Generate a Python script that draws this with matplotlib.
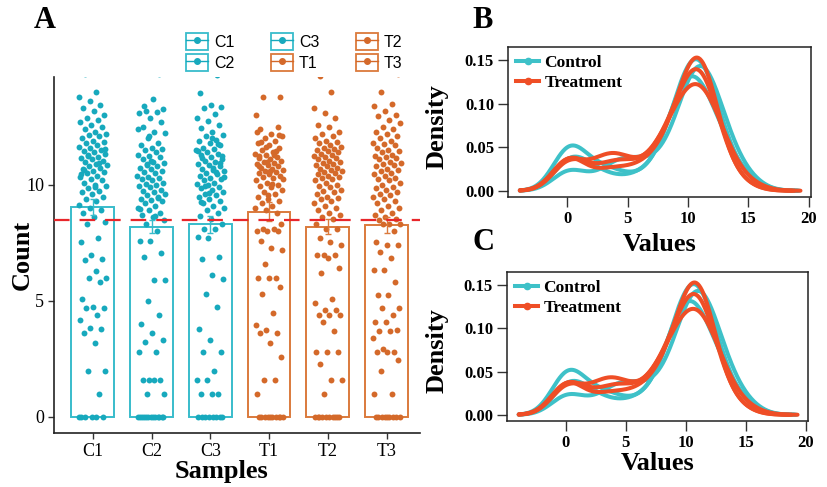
import matplotlib
matplotlib.use('Agg')
import matplotlib.pyplot as plt
from matplotlib.lines import Line2D
from matplotlib.patches import Patch
from matplotlib.legend_handler import HandlerTuple
import numpy as np

samples = ['C1', 'C2', 'C3', 'T1', 'T2', 'T3']
groups = ['Control', 'Control', 'Control', 'Treatment', 'Treatment', 'Treatment']
bar_means = [9.05, 8.2, 8.3, 8.85, 8.2, 8.27]
bar_se = [0.33, 0.27, 0.38, 0.4, 0.32, 0.33]
grand_mean = 8.5
kde_bw = 1.3

# per-sample values (a few above 14.65 lie outside panel A's range)
c1 = [0, 0, 0, 0, 0, 0, 1.0, 2.0, 2.0, 3.2, 3.6, 3.8, 3.85, 4.2, 4.4, 4.7, 4.7, 4.75,
      5.1, 5.8, 6.0, 6.0, 6.3, 6.75, 6.8, 7.0, 7.55, 7.7, 8.3, 8.4,
      8.6, 8.8, 8.9, 9.0, 9.15, 9.3, 9.4, 9.5, 9.6, 9.7, 9.75, 9.85, 9.95, 10.0, 10.1,
      10.2, 10.25, 10.35, 10.4, 10.5, 10.55, 10.6, 10.7, 10.75, 10.8, 10.85, 10.9, 11.0,
      11.05, 11.1, 11.15, 11.2, 11.3, 11.35, 11.4, 11.45, 11.5, 11.6, 11.65, 11.7, 11.8,
      11.85, 11.9, 12.0, 12.1, 12.15, 12.2, 12.3, 12.4, 12.5, 12.6, 12.7, 12.8, 12.9,
      13.0, 13.2, 13.3, 13.45, 13.6, 13.8, 14.0, 14.8, 14.9, 15.3, 10.45, 10.95, 11.25,
      11.55, 9.9, 10.65]
c2 = [0, 0, 0, 0, 0, 0, 0, 0, 0, 0, 0, 0, 0, 1.0, 1.0, 1.6, 1.6, 1.6, 1.6, 2.8, 2.8,
      3.25, 3.3, 3.6, 4.0, 4.4, 5.0, 5.9, 5.9, 6.9, 7.05, 7.6, 7.6, 8.0, 8.3,
      8.5, 8.6, 8.7, 8.8, 8.9, 9.0, 9.1, 9.2, 9.3, 9.35, 9.4, 9.5, 9.55, 9.6, 9.7, 9.75,
      9.8, 9.9, 9.95, 10.0, 10.05, 10.1, 10.2, 10.25, 10.3, 10.35, 10.4, 10.5, 10.55,
      10.6, 10.7, 10.75, 10.8, 10.9, 10.95, 11.0, 11.1, 11.2, 11.25, 11.3, 11.4, 11.5,
      11.55, 11.6, 11.7, 11.8, 12.0, 12.25, 12.3, 12.5, 12.7, 12.9, 13.1, 13.15, 13.2,
      13.25, 13.7, 15.2, 14.8, 12.1, 12.4, 8.65, 13.4, 14.9, 11.05, 8.95, 9.45, 10.85]
c3 = [0, 0, 0, 0, 0, 0, 0, 0, 1.0, 1.0, 1.0, 1.6, 1.6, 2.0, 2.8, 2.8, 3.3, 3.8, 4.75,
      5.3, 5.95, 6.1, 6.8, 6.9, 7.7, 7.75, 8.1, 8.1, 8.3,
      8.55, 8.65, 8.8, 8.9, 9.0, 9.1, 9.2, 9.3, 9.4, 9.5, 9.55, 9.6, 9.7, 9.8, 9.85, 9.9,
      10.0, 10.05, 10.1, 10.2, 10.25, 10.3, 10.4, 10.45, 10.5, 10.6, 10.65, 10.7, 10.8,
      10.85, 10.9, 11.0, 11.05, 11.1, 11.2, 11.3, 11.35, 11.4, 11.5, 11.55, 11.6, 11.7,
      11.8, 11.9, 11.95, 12.1, 12.15, 12.3, 12.45, 12.6, 12.75, 12.9, 13.05, 13.3, 13.35,
      13.45, 13.95, 14.75, 15.1, 10.35, 10.75, 11.15, 10.95, 9.65, 11.45, 10.55, 9.95,
      11.25, 12.0, 9.25, 11.75]
t1 = [0, 0, 0, 0, 0, 0, 0, 0, 0, 0, 1.0, 1.6, 1.6, 2.6, 3.2, 3.6, 3.6, 3.75, 3.95, 4.5,
      5.3, 5.6, 6.0, 6.0, 6.0, 6.6, 7.2, 7.3, 7.6, 8.0, 8.0, 8.0, 8.1, 8.1, 8.3,
      10.6, 10.8, 8.8, 8.9, 9.0, 9.1, 9.2, 9.3, 9.4, 9.5, 9.6, 9.7, 9.8, 9.9, 9.95, 10.0,
      10.1, 10.2, 10.3, 10.35, 10.4, 10.45, 10.5, 10.55, 10.6, 10.65, 10.7, 10.75, 10.8,
      10.85, 10.9, 10.95, 11.0, 11.05, 11.1, 11.15, 11.2, 11.3, 11.35, 11.4, 11.5, 11.6,
      11.7, 11.8, 11.9, 12.0, 12.1, 12.2, 12.4, 12.5, 11.0, 13.0, 11.3, 13.8, 13.8, 14.9,
      11.25, 11.45, 11.65, 10.25, 10.05, 11.85, 12.15, 9.55, 12.3]
t2 = [0, 0, 0, 0, 0, 0, 0, 0, 0, 0, 1.0, 1.6, 1.6, 2.3, 2.8, 2.8, 2.8, 3.7, 4.1, 4.4,
      4.4, 4.4, 4.6, 4.6, 4.9, 5.1, 6.2, 6.4, 6.85, 7.0, 7.0, 7.0, 7.4, 7.55, 7.7, 8.1,
      8.1, 8.3,
      8.55, 8.6, 8.7, 8.8, 8.9, 9.0, 9.1, 9.2, 9.3, 9.4, 9.45, 9.5, 9.6, 9.7, 9.75, 9.8,
      9.9, 9.95, 10.0, 10.1, 10.2, 10.25, 10.3, 10.35, 10.4, 10.45, 10.5, 10.55, 10.6,
      10.65, 10.7, 10.75, 10.8, 10.85, 10.9, 10.95, 11.0, 11.05, 11.1, 11.15, 11.2, 11.25,
      11.3, 11.35, 11.4, 11.45, 11.5, 11.55, 11.6, 11.65, 11.7, 11.8, 11.85, 11.9, 12.0,
      12.1, 12.2, 12.3, 12.5, 12.6, 12.9, 13.1, 13.3, 14.0, 14.7]
t3 = [0, 0, 0, 0, 0, 0, 0, 0, 0, 1.0, 1.0, 2.0, 2.45, 2.8, 2.8, 2.8, 2.95, 3.4, 3.7,
      3.7, 3.75, 4.1, 4.1, 4.4, 4.7, 4.7, 5.25, 5.25, 5.8, 6.35, 6.35, 6.85, 7.1, 7.4,
      7.4, 7.55, 8.0, 8.3, 8.3, 8.3,
      8.5, 8.55, 8.6, 8.7, 8.8, 8.9, 9.0, 9.1, 9.2, 9.3, 9.4, 9.5, 9.55, 9.6, 9.7, 9.8,
      9.85, 9.9, 10.0, 10.1, 10.2, 10.25, 10.3, 10.4, 10.45, 10.5, 10.6, 10.65, 10.7,
      10.8, 10.85, 10.9, 10.95, 11.0, 11.1, 11.15, 11.2, 11.25, 11.3, 11.4, 11.45, 11.5,
      11.6, 11.7, 11.75, 11.8, 11.9, 12.0, 12.1, 12.2, 12.3, 12.4, 12.5, 12.65, 12.8,
      12.95, 13.0, 13.2, 13.4, 13.5, 14.0, 14.8, 15.4]
values = [c1, c2, c3, t1, t2, t3]

dot_col = {'Control': '#17A9BD', 'Treatment': '#D4692A'}
bar_col = {'Control': '#38BCCB', 'Treatment': '#DB7A3C'}
kde_col = {'Control': '#3EC1C8', 'Treatment': '#EF4E26'}
serif = 'Liberation Serif'


def kde(v, bw):
    # gaussian kde over min - 3bw .. max + 3bw (like R's density)
    v = np.asarray(v, float)
    grid = np.linspace(v.min() - 3 * bw, v.max() + 3 * bw, 400)
    d = np.exp(-0.5 * ((grid[:, None] - v[None, :]) / bw) ** 2).sum(1)
    return grid, d / (len(v) * bw * np.sqrt(2 * np.pi))


fig = plt.figure(figsize=(8.27, 4.87), dpi=100)

# ---- panel A
ax = fig.add_axes([54 / 827, 1 - 433 / 487, 366 / 827, 356 / 487])
pos = np.arange(len(samples))
for i, (s, g) in enumerate(zip(samples, groups)):
    ax.bar(i, bar_means[i], width=0.73, facecolor='white', edgecolor=bar_col[g],
           linewidth=1.4, zorder=1)
    n = len(values[i])
    offs = ((np.arange(n) * 0.618034 + 0.3 * i) % 1 - 0.5) * 0.48
    ax.scatter(i + offs, values[i], s=18, color=dot_col[g], linewidths=0, zorder=2)
    ax.errorbar(i, bar_means[i], yerr=bar_se[i], color=bar_col[g], lw=1, capsize=2.2,
                capthick=1, zorder=3)
ax.axhline(grand_mean, color='#E8262B', lw=1.6, dashes=(7, 4.5), zorder=4)
ax.set_xlim(-0.66, 5.57)
ax.set_ylim(-0.69, 14.65)
ax.set_xticks(pos)
ax.set_xticklabels(samples)
ax.set_yticks([0, 5, 10])
for sp in ['top', 'right']:
    ax.spines[sp].set_visible(False)
for sp in ['left', 'bottom']:
    ax.spines[sp].set_linewidth(1.2)
    ax.spines[sp].set_color('#222222')
ax.tick_params(length=4, width=1, pad=3, color='#333333')
for lab in ax.get_xticklabels() + ax.get_yticklabels():
    lab.set_fontfamily(serif)
    lab.set_fontsize(13)
ax.set_xlabel('Samples', fontfamily=serif, fontsize=19, fontweight='bold')
ax.set_ylabel('Count', fontfamily=serif, fontsize=19, fontweight='bold')
ax.xaxis.set_label_coords(0.459, -0.075)
ax.yaxis.set_label_coords(-0.056, 0.5)

handles = [(Patch(facecolor='white', edgecolor=bar_col[g], linewidth=1.3),
            Line2D([], [], color=dot_col[g], lw=1, marker='o', markersize=4))
           for g in groups]
fig.legend(handles, samples, ncol=3, loc='upper left',
           bbox_to_anchor=(186 / 827, 1 - 33 / 487), frameon=False,
           handler_map={tuple: HandlerTuple(ndivide=1, pad=0)},
           prop={'family': 'Liberation Sans', 'size': 11.5},
           handlelength=1.4, handleheight=1.25, handletextpad=0.35,
           labelspacing=0.25, columnspacing=2.3, borderpad=0, borderaxespad=0)

fig.text(45 / 827, 1 - 20 / 487, 'A', fontfamily=serif, fontsize=22,
         fontweight='bold', ha='center', va='center')
fig.text(483 / 827, 1 - 20 / 487, 'B', fontfamily=serif, fontsize=22,
         fontweight='bold', ha='center', va='center')
fig.text(483 / 827, 1 - 243 / 487, 'C', fontfamily=serif, fontsize=22,
         fontweight='bold', ha='center', va='center')

# ---- panels B and C
boxes = [(508, 47, 811, 197, -0.24), (507, 272, 808, 421, -0.21)]
for (l, t, r, b, lab_y) in boxes:
    axd = fig.add_axes([l / 827, 1 - b / 487, (r - l) / 827, (b - t) / 487])
    for i, g in enumerate(groups):
        xs, ds = kde(values[i], kde_bw)
        axd.plot(xs, ds, color=kde_col[g], lw=2.9, solid_capstyle='round')
    axd.set_xlim(-4.88, 20.17)
    axd.set_ylim(-0.0072, 0.165)
    axd.set_xticks([0, 5, 10, 15, 20])
    axd.set_yticks([0, 0.05, 0.10, 0.15])
    axd.set_yticklabels(['0.00', '0.05', '0.10', '0.15'])
    for sp in axd.spines.values():
        sp.set_linewidth(1.1)
        sp.set_color('#222222')
    axd.tick_params(length=7.5, width=1, pad=2.5, color='#333333')
    for lab in axd.get_xticklabels() + axd.get_yticklabels():
        lab.set_fontfamily(serif)
        lab.set_fontsize(12)
        lab.set_fontweight('bold')
    axd.set_xlabel('Values', fontfamily=serif, fontsize=19, fontweight='bold')
    axd.set_ylabel('Density', fontfamily=serif, fontsize=19, fontweight='bold')
    axd.xaxis.set_label_coords(0.5, lab_y)
    axd.yaxis.set_label_coords(-0.195, 0.47)
    leg_h = [Line2D([], [], color=kde_col[k], lw=2.9, marker='o', markersize=4.5)
             for k in ['Control', 'Treatment']]
    axd.legend(leg_h, ['Control', 'Treatment'], loc='upper left', frameon=False,
               prop={'family': serif, 'size': 12.5, 'weight': 'bold'},
               handlelength=1.35, handletextpad=0.3, labelspacing=0.2,
               borderaxespad=0.25, borderpad=0.2)

fig.savefig('out.png', dpi=100)
